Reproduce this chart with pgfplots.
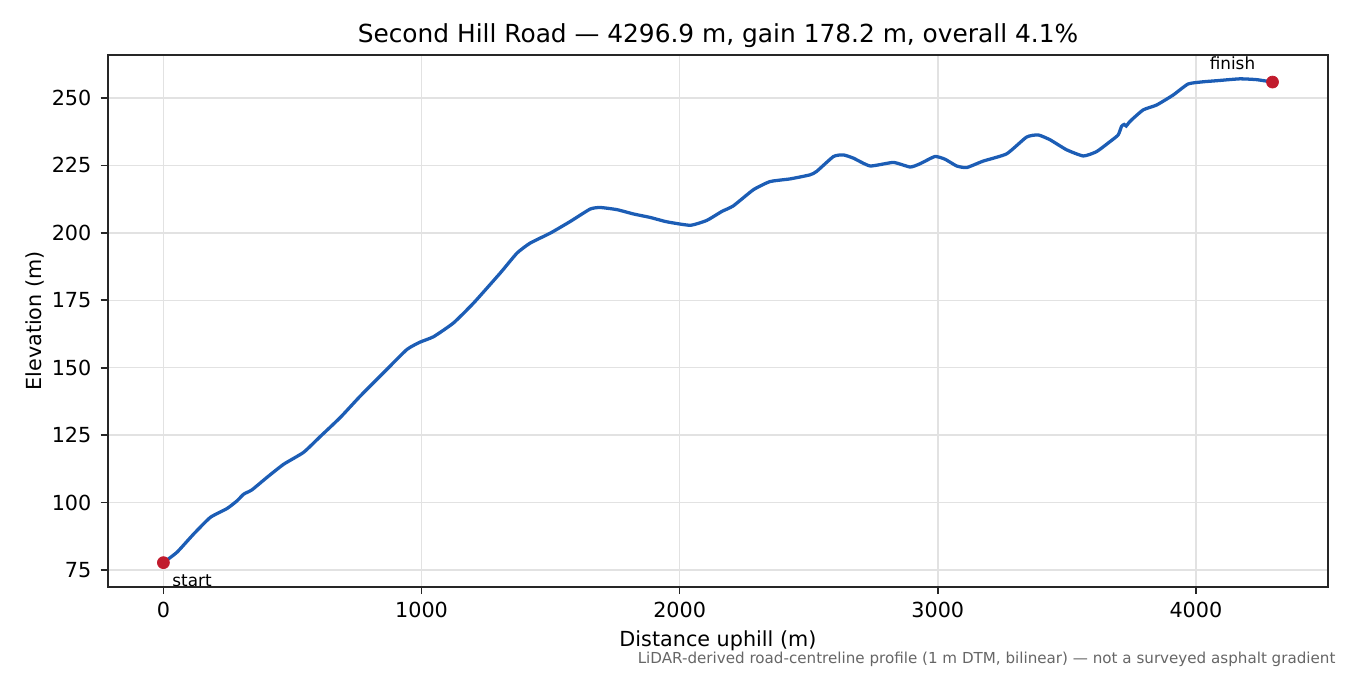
\documentclass[border=0pt]{standalone}
\usepackage{fontspec}
\setmainfont{DejaVu Sans}
\usepackage{pgfplots}
\pgfplotsset{compat=1.18}
\definecolor{lineblue}{HTML}{1C5DB5}
\definecolor{dotred}{HTML}{C11B2D}
\definecolor{gridgray}{HTML}{E2E2E2}
\definecolor{axgray}{HTML}{262626}
\begin{document}
\begin{tikzpicture}
\useasboundingbox (-57.8pt,-47.1pt) rectangle (664.9pt,314.2pt);
\begin{axis}[
  at={(0,0)}, anchor=south west,
  scale only axis, width=653.1pt, height=284.8pt,
  xmin=-214.8, xmax=4511.7, ymin=68.7, ymax=265.97,
  xtick={0,1000,2000,3000,4000},
  ytick={75,100,125,150,175,200,225,250},
  scaled x ticks=false,
  tick align=outside, major tick length=3.9pt,
  tick style={axgray, line width=0.89pt},
  axis line style={axgray, line width=0.89pt},
  xtick pos=bottom, ytick pos=left,
  grid=major,
  major grid style={gridgray, line width=0.8pt},
  tick label style={font=\fontsize{11.1}{13}\selectfont},
  xticklabel style={anchor=base, inner sep=0pt, yshift=-12.3pt},
  yticklabel style={anchor=east, inner sep=0pt, xshift=-4.8pt},
  /pgf/number format/assume math mode=true,
  /pgf/number format/1000 sep={},
  clip=false,
]
\addplot[lineblue, line width=1.75pt, smooth, tension=0.3] coordinates {
(0,77.7) (53,81.6) (117,88.3) (182,94.5) (247,97.8) (285,100.6) (311,103.1)
(343,104.7) (401,109.3) (466,114.2) (543,118.6) (608,124.5) (685,131.5)
(763,139.5) (866,149.4) (944,156.8) (995,159.5) (1047,161.5) (1124,166.6)
(1202,174.0) (1305,185.1) (1370,192.5) (1421,196.2) (1499,199.9) (1576,204.2)
(1653,208.8) (1692,209.4) (1757,208.6) (1821,207.0) (1886,205.7) (1950,204.1)
(2041,202.8) (2105,204.6) (2163,207.9) (2208,210.0) (2286,216.0) (2350,219.0)
(2428,220.0) (2505,221.5) (2531,222.8) (2596,228.3) (2634,228.9) (2673,227.7)
(2738,224.8) (2828,226.1) (2893,224.4) (2931,225.6) (2989,228.3) (3028,227.3)
(3073,224.8) (3112,224.2) (3176,226.6) (3267,229.3) (3344,235.5) (3389,236.3)
(3435,234.5) (3499,230.8) (3564,228.5) (3615,230.1) (3667,233.8) (3699,236.3)
(3712,239.5) (3722,240.2) (3730,239.6) (3740,240.8) (3751,241.9) (3796,245.6)
(3848,247.4) (3912,251.1) (3970,255.2) (4028,256.0) (4080,256.4) (4170,257.1)
(4235,256.8) (4296.9,255.9)
};
\addplot[only marks, mark=*, mark size=3.2pt, mark options={fill=dotred, draw=dotred}] coordinates {(0,77.7) (4296.9,255.9)};
\node[anchor=base west, font=\fontsize{9}{11}\selectfont, inner sep=0pt] at ([xshift=4.65pt, yshift=-12.5pt]axis cs:0,77.7) {start};
\node[anchor=base east, font=\fontsize{9}{11}\selectfont, inner sep=0pt] at ([xshift=-9.1pt, yshift=7.0pt]axis cs:4296.9,255.9) {finish};
\end{axis}
\node[anchor=base, font=\fontsize{13.3}{16}\selectfont, inner sep=0pt] at (326.55pt,291.6pt) {Second Hill Road — 4296.9 m, gain 178.2 m, overall 4.1\%};
\node[anchor=base, font=\fontsize{11.1}{13}\selectfont, inner sep=0pt] at (326.55pt,-31.96pt) {Distance uphill (m)};
\node[anchor=base, rotate=90, font=\fontsize{11.1}{13}\selectfont, inner sep=0pt] at (-35.5pt,142.4pt) {Elevation (m)};
\node[anchor=base east, font=\fontsize{8.1}{10}\selectfont, text=black!60, inner sep=0pt] at (657.3pt,-41.2pt) {LiDAR-derived road-centreline profile (1 m DTM, bilinear) — not a surveyed asphalt gradient};
\end{tikzpicture}
\end{document}
